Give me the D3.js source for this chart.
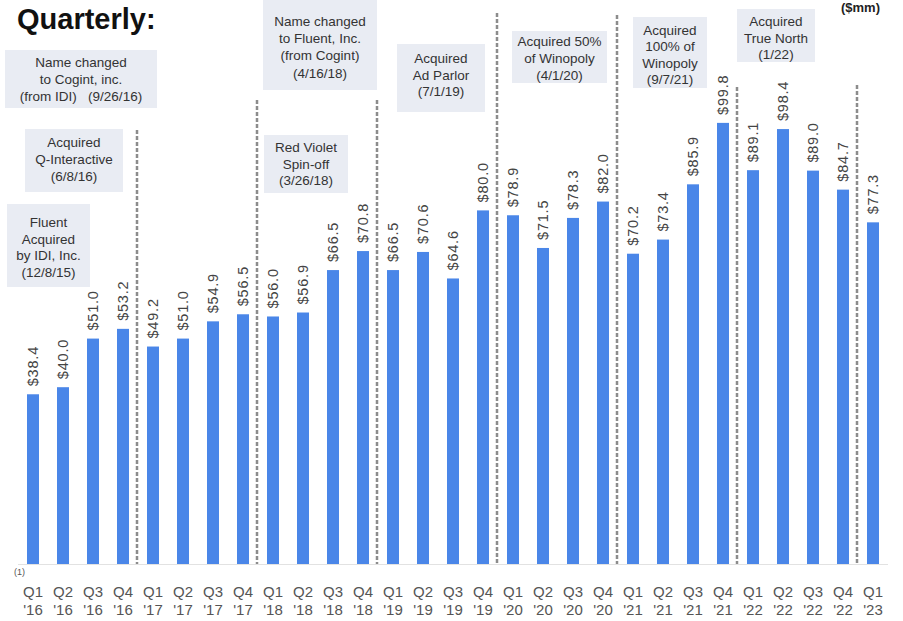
<!DOCTYPE html>
<html>
<head>
<meta charset="utf-8">
<script src="https://cdn.jsdelivr.net/npm/d3@7"></script>
<style>
  html, body { margin: 0; padding: 0; background: #fff; }
  svg { display: block; }
  text { font-family: "Liberation Sans", Arial, sans-serif; }
</style>
</head>
<body>
<svg id="chart" width="903" height="621"></svg>
<script>
// Quarterly revenue, $mm
const quarters = ["Q1","Q2","Q3","Q4","Q1","Q2","Q3","Q4","Q1","Q2","Q3","Q4","Q1","Q2","Q3","Q4",
                  "Q1","Q2","Q3","Q4","Q1","Q2","Q3","Q4","Q1","Q2","Q3","Q4","Q1"];
const years = ["'16","'16","'16","'16","'17","'17","'17","'17","'18","'18","'18","'18","'19","'19","'19","'19",
               "'20","'20","'20","'20","'21","'21","'21","'21","'22","'22","'22","'22","'23"];
const revenue = [38.4, 40.0, 51.0, 53.2, 49.2, 51.0, 54.9, 56.5, 56.0, 56.9, 66.5, 70.8, 66.5, 70.6, 64.6, 80.0,
                 78.9, 71.5, 78.3, 82.0, 70.2, 73.4, 85.9, 99.8, 89.1, 98.4, 89.0, 84.7, 77.3];

// Corporate milestones
const milestones = [
  ["Name changed", "to Cogint, inc.", "(from IDI)   (9/26/16)"],
  ["Acquired", "Q-Interactive", "(6/8/16)"],
  ["Fluent", "Acquired", "by IDI, Inc.", "(12/8/15)"],
  ["Name changed", "to Fluent, Inc.", "(from Cogint)", "(4/16/18)"],
  ["Red Violet", "Spin-off", "(3/26/18)"],
  ["Acquired", "Ad Parlor", "(7/1/19)"],
  ["Acquired 50%", "of Winopoly", "(4/1/20)"],
  ["Acquired", "100% of", "Winopoly", "(9/7/21)"],
  ["Acquired", "True North", "(1/22)"]
];

const categories = quarters.map((q, i) => q + " " + years[i]);

const svg = d3.select("#chart");

const x = d3.scaleBand()
  .domain(categories)
  .range([18, 888])
  .paddingInner(0.6)
  .paddingOuter(0.3);

const y = d3.scaleLinear()
  .domain([0, 100])
  .range([564, 122]);

// title
svg.append("text")
  .attr("x", 17).attr("y", 29)
  .attr("font-size", 29).attr("font-weight", "bold")
  .attr("fill", "#111")
  .text("Quarterly:");

svg.append("text")
  .attr("x", 880).attr("y", 12)
  .attr("text-anchor", "end")
  .attr("font-size", 13).attr("font-weight", "bold")
  .attr("fill", "#222")
  .text("($mm)");

// milestone call-out boxes: [left, top, width, height, first baseline, line step]
const noteBoxes = [
  [5, 50, 152, 58, 67, 17],
  [25, 129, 98, 63, 147, 17],
  [7, 204, 83, 83, 227, 16.7],
  [263, 0, 114, 90, 26, 17.2],
  [264, 135, 84, 58, 152, 16.5],
  [397, 44, 88, 68, 63, 16.5],
  [512, 31, 95, 52, 46, 17],
  [633, 17, 74, 71, 35, 16.4],
  [737, 9, 78, 53, 26, 16.5]
];

const notes = svg.append("g");
milestones.forEach((lines, i) => {
  const [bx, by, bw, bh, b0, step] = noteBoxes[i];
  notes.append("rect")
    .attr("x", bx).attr("y", by).attr("width", bw).attr("height", bh)
    .attr("fill", "#e9ecf3");
  const t = notes.append("text")
    .attr("text-anchor", "middle")
    .attr("font-size", 13.5)
    .attr("fill", "#333");
  lines.forEach((s, k) => {
    t.append("tspan")
      .attr("x", bx + bw / 2)
      .attr("y", b0 + k * step)
      .attr("xml:space", "preserve")
      .text(s);
  });
});

// baseline
svg.append("line")
  .attr("x1", 18).attr("x2", 888)
  .attr("y1", y(0) + 0.5).attr("y2", y(0) + 0.5)
  .attr("stroke", "#e2e2e2").attr("stroke-width", 1);

// year separators (dashed), drawn before each Q1 after the first
const sepTops = [130, 100, 100, 13, 15, 87, 85];
const sepIdx = quarters.map((q, i) => (q === "Q1" && i > 0 ? i : -1)).filter(i => i > 0);
const gap = x.step() - x.bandwidth();
svg.append("g").selectAll("line")
  .data(sepIdx)
  .join("line")
  .attr("x1", i => Math.round(x(categories[i]) - gap / 2 - 1))
  .attr("x2", i => Math.round(x(categories[i]) - gap / 2 - 1))
  .attr("y1", (i, k) => sepTops[k])
  .attr("y2", y(0))
  .attr("stroke", "#8c8c8c")
  .attr("stroke-width", 2.5)
  .attr("stroke-dasharray", "4,2");

// bars
svg.append("g").selectAll("rect")
  .data(revenue)
  .join("rect")
  .attr("x", (d, i) => x(categories[i]))
  .attr("y", d => y(d))
  .attr("width", x.bandwidth())
  .attr("height", d => y(0) - y(d))
  .attr("fill", "#4a86e8");

// value labels
const fmt = d3.format(".1f");
svg.append("g").selectAll("text")
  .data(revenue)
  .join("text")
  .attr("transform", (d, i) =>
    `translate(${x(categories[i]) + x.bandwidth() / 2 + 5},${y(d) - 8}) rotate(-90)`)
  .attr("font-size", 14.5)
  .attr("letter-spacing", 0.8)
  .attr("fill", "#444")
  .text(d => "$" + fmt(d));

// x axis labels (two lines)
const xAxis = d3.axisBottom(x).tickSize(0).tickPadding(0).tickFormat(() => "");
const axisG = svg.append("g")
  .attr("transform", `translate(0,${y(0)})`)
  .call(xAxis);
axisG.select(".domain").remove();
axisG.selectAll(".tick text").each(function(d, i) {
  const t = d3.select(this)
    .attr("font-size", 15)
    .attr("fill", "#555")
    .attr("y", 0)
    .attr("dy", null);
  t.append("tspan").attr("x", 0).attr("y", 33).text(quarters[i]);
  t.append("tspan").attr("x", 0).attr("y", 51).text(years[i]);
});

// footnote marker
svg.append("text")
  .attr("x", 14).attr("y", 575)
  .attr("font-size", 9)
  .attr("fill", "#555")
  .text("(1)");
</script>
</body>
</html>
